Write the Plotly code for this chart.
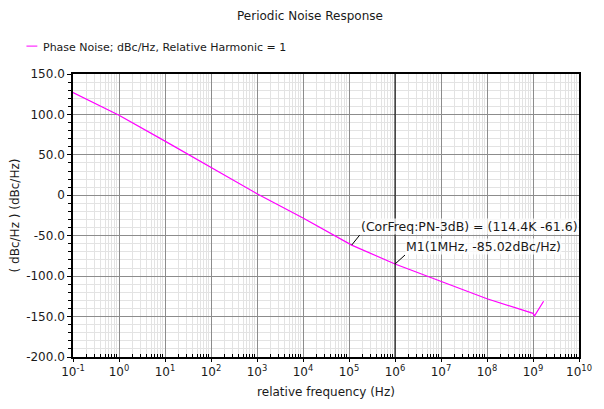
import math
import plotly.graph_objects as go

# Phase noise of the oscillator versus offset frequency
freq_hz = [0.1, 1, 10, 100, 1e3, 1e4, 1e5, 114.4e3, 1e6, 1e7, 1e8, 1e9, 1.08e9, 1.7e9]
pn_dbc = [127, 99, 67, 34, 2, -28, -59, -61.6, -85.02, -107, -128, -146, -149, -131]

# Marker readouts
corner_freq = 114.4e3
corner_pn = -61.6
m1_freq = 1e6
m1_pn = -85.02

x_decades = list(range(-1, 11))
x_tickvals = [10.0 ** k for k in x_decades]
x_ticktext = [f"10<sup>{k}</sup>" for k in x_decades]
x_minor = [m * 10.0 ** k for k in x_decades[:-1] for m in range(2, 10)]

y_tickvals = [150, 100, 50, 0, -50, -100, -150, -200]
y_ticktext = ["150.0", "100.0", "50.0", "0", "-50.0", "-100.0", "-150.0", "-200.0"]

LINE = "#ff00ff"
FONT = "DejaVu Sans"
TXT = "#1a1a1a"

W, H = 604, 409
ML, MR, MT, MB = 73, 20, 74, 51
PW = W - ML - MR
PH = H - MT - MB


def px_x(px):
    return (px - ML) / PW


def px_y(py):
    return 1 - (py - MT) / PH


fig = go.Figure()
fig.add_trace(go.Scatter(
    x=freq_hz, y=pn_dbc, mode="lines",
    line=dict(color=LINE, width=1.2),
    name="Phase Noise; dBc/Hz, Relative Harmonic = 1",
    showlegend=False,
))

shapes = [
    # M1 marker line
    dict(type="line", xref="x", yref="paper",
         x0=m1_freq, x1=m1_freq, y0=0, y1=1,
         line=dict(color="black", width=1)),
    # legend swatch
    dict(type="line", xref="paper", yref="paper",
         x0=px_x(26), x1=px_x(37), y0=px_y(46), y1=px_y(46),
         line=dict(color=LINE, width=1)),
]

annotations = [
    dict(text="Periodic Noise Response", xref="paper", yref="paper",
         x=px_x(312), y=px_y(16), xanchor="center", yanchor="middle",
         showarrow=False, font=dict(family=FONT, size=12, color=TXT)),
    dict(text="Phase Noise; dBc/Hz, Relative Harmonic = 1", xref="paper", yref="paper",
         x=px_x(41), y=px_y(47), xanchor="left", yanchor="middle",
         showarrow=False, font=dict(family=FONT, size=11, color=TXT)),
    dict(text=f"(CorFreq:PN-3dB) = ({corner_freq/1e3:.1f}K {corner_pn})",
         x=math.log10(corner_freq), y=corner_pn, xref="x", yref="y",
         showarrow=True, arrowhead=0, arrowwidth=1, arrowcolor="black",
         ax=8, ay=-10, xanchor="left", yanchor="bottom",
         bgcolor="rgba(255,255,255,0.75)", borderpad=0,
         font=dict(family=FONT, size=12.5, color=TXT)),
    dict(text=f"M1(1MHz, {m1_pn:.2f}dBc/Hz)",
         x=math.log10(m1_freq), y=m1_pn, xref="x", yref="y",
         showarrow=True, arrowhead=0, arrowwidth=1, arrowcolor="black",
         ax=10, ay=-9, xanchor="left", yanchor="bottom",
         bgcolor="rgba(255,255,255,0.75)", borderpad=0,
         font=dict(family=FONT, size=12.5, color=TXT)),
]

fig.update_layout(
    width=W, height=H,
    margin=dict(l=ML, r=MR, t=MT, b=MB),
    paper_bgcolor="white", plot_bgcolor="white",
    font=dict(family=FONT, size=12, color=TXT),
    shapes=shapes, annotations=annotations,
)

fig.update_xaxes(
    type="log", range=[-1, 10],
    tickvals=x_tickvals, ticktext=x_ticktext,
    showgrid=True, gridcolor="#8c8c8c", gridwidth=1,
    showline=True, linecolor="black", linewidth=1.5, mirror=True,
    ticks="outside", ticklen=3, tickcolor="black",
    tickfont=dict(family=FONT, size=12, color=TXT),
    minor=dict(tickvals=x_minor, showgrid=True, gridcolor="#e3e3e3",
               ticks="inside", ticklen=3, tickcolor="black"),
    title=dict(text="relative frequency (Hz)", standoff=9,
               font=dict(family=FONT, size=12, color=TXT)),
    zeroline=False,
)

fig.update_yaxes(
    range=[-200, 150],
    tickvals=y_tickvals, ticktext=y_ticktext,
    showgrid=True, gridcolor="#8c8c8c", gridwidth=1,
    showline=True, linecolor="black", linewidth=1.5, mirror=True,
    ticks="outside", ticklen=4, tickcolor="black",
    tickfont=dict(family=FONT, size=12, color=TXT),
    minor=dict(dtick=10, showgrid=True, gridcolor="#e3e3e3",
               ticks="outside", ticklen=3, tickcolor="black"),
    title=dict(text="( dBc/Hz ) (dBc/Hz)", standoff=4,
               font=dict(family=FONT, size=12, color=TXT)),
    zeroline=False,
)

fig.write_html("out.html")
